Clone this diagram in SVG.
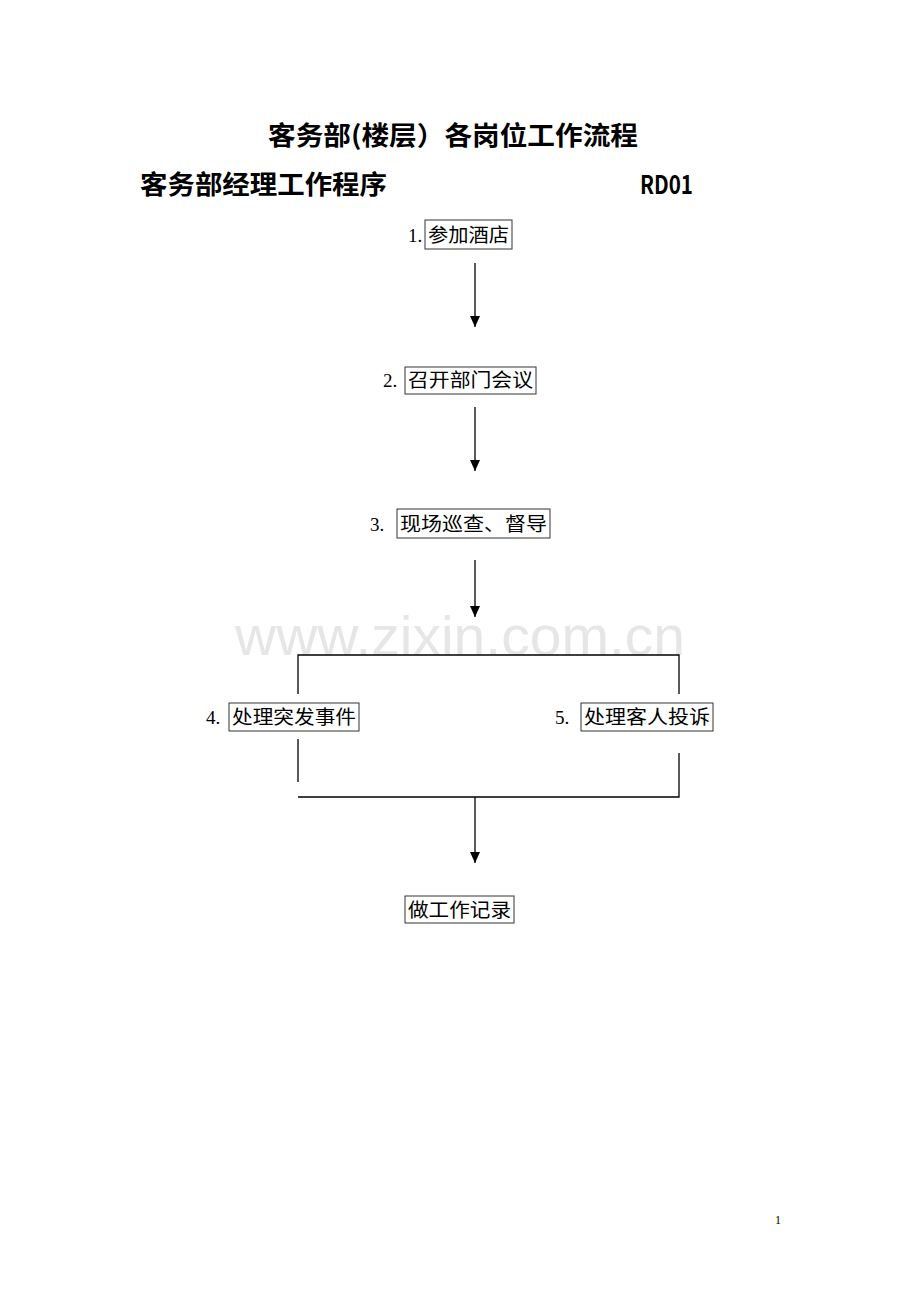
<svg xmlns="http://www.w3.org/2000/svg" width="920" height="1302" viewBox="0 0 920 1302">
<style>
.h{font-family:"Noto Sans CJK SC","Liberation Sans",sans-serif;font-size:26px;font-weight:bold;fill:#000}
.t{font-family:"Liberation Serif","Noto Sans CJK SC",serif;font-size:19px;fill:#000}
.n{font-family:"Liberation Serif",serif;font-size:19px;fill:#000}
.b{fill:#fff;stroke:#333;stroke-width:1}
.c{stroke:#000;stroke-width:1.3;fill:none}
.wm{font-family:"Liberation Sans",Arial,sans-serif;font-size:56px;fill:#e6e6e6}
</style>
<defs>
<marker id="ah" markerWidth="11" markerHeight="10" refX="11" refY="5" orient="auto" markerUnits="userSpaceOnUse">
<path d="M0,0 L11,5 L0,10 Z" fill="#000"/>
</marker>
</defs>
<rect width="920" height="1302" fill="#fff"/>
<text class="wm" x="235" y="655" textLength="450" lengthAdjust="spacingAndGlyphs">www.zixin.com.cn</text>
<g id="titles">
<text class="h" x="268" y="145" textLength="370" lengthAdjust="spacingAndGlyphs">客务部(楼层）各岗位工作流程</text>
<text class="h" x="140" y="194" textLength="247" lengthAdjust="spacingAndGlyphs">客务部经理工作程序</text>
<text class="h" x="640" y="194" textLength="53" lengthAdjust="spacingAndGlyphs">RD01</text>
</g>
<g id="connectors">
<line class="c" x1="475" y1="263" x2="475" y2="327" marker-end="url(#ah)"/>
<line class="c" x1="475" y1="407" x2="475" y2="471" marker-end="url(#ah)"/>
<line class="c" x1="475" y1="560" x2="475" y2="617" marker-end="url(#ah)"/>
<polyline class="c" points="298,694 298,655 679,655 679,694"/>
<line class="c" x1="298" y1="739" x2="298" y2="782"/>
<polyline class="c" points="679,753 679,797 298,797"/>
<line class="c" x1="475" y1="797" x2="475" y2="863" marker-end="url(#ah)"/>
</g>
<g id="n1">
<text class="n" x="408" y="242">1.</text>
<rect class="b" x="425" y="220" width="87" height="29"/>
<text class="t" x="428" y="242" textLength="81" lengthAdjust="spacingAndGlyphs">参加酒店</text>
</g>
<g id="n2">
<text class="n" x="383" y="387">2.</text>
<rect class="b" x="405" y="367" width="131" height="27"/>
<text class="t" x="408" y="387" textLength="125" lengthAdjust="spacingAndGlyphs">召开部门会议</text>
</g>
<g id="n3">
<text class="n" x="370" y="531">3.</text>
<rect class="b" x="397" y="509" width="153" height="29"/>
<text class="t" x="400" y="531" textLength="147" lengthAdjust="spacingAndGlyphs">现场巡查、督导</text>
</g>
<g id="n4">
<text class="n" x="206" y="724">4.</text>
<rect class="b" x="229" y="703" width="130" height="28"/>
<text class="t" x="232" y="724" textLength="124" lengthAdjust="spacingAndGlyphs">处理突发事件</text>
</g>
<g id="n5">
<text class="n" x="555" y="724">5.</text>
<rect class="b" x="581" y="703" width="132" height="28"/>
<text class="t" x="584" y="724" textLength="126" lengthAdjust="spacingAndGlyphs">处理客人投诉</text>
</g>
<g id="n6">
<rect class="b" x="405" y="896" width="109" height="27"/>
<text class="t" x="408" y="917" textLength="103" lengthAdjust="spacingAndGlyphs">做工作记录</text>
</g>
<text class="n" x="775" y="1224" style="font-size:12px">1</text>
</svg>
